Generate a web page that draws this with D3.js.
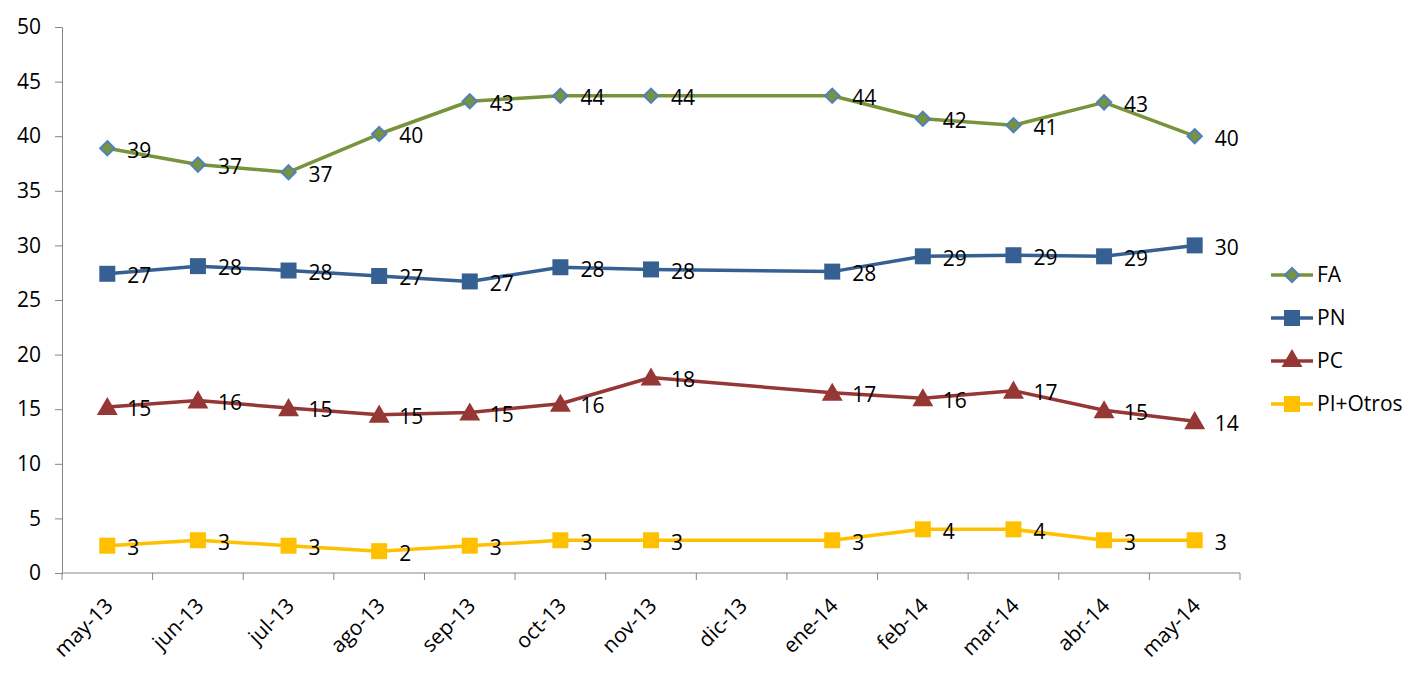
<!DOCTYPE html>
<html>
<head>
<meta charset="utf-8">
<script src="https://cdn.jsdelivr.net/npm/d3@7"></script>
<style>
    body { margin: 0; background: #fff; }
    text { font-family: "Open Sans", sans-serif; }
</style>
</head>
<body>
<div id="chart"></div>
<script>
    const meses = ["may-13", "jun-13", "jul-13", "ago-13", "sep-13", "oct-13", "nov-13",
        "dic-13", "ene-14", "feb-14", "mar-14", "abr-14", "may-14"];
    // dic-13 sin dato
    const fa = [38.9, 37.4, 36.7, 40.2, 43.2, 43.7, 43.7, null, 43.7, 41.6, 41.0, 43.1, 40.0];
    const pn = [27.4, 28.1, 27.7, 27.2, 26.7, 28.0, 27.8, null, 27.6, 29.0, 29.1, 29.0, 30.0];
    const pc = [15.2, 15.8, 15.1, 14.5, 14.7, 15.5, 17.9, null, 16.5, 16.0, 16.7, 14.9, 13.9];
    const pi = [2.5, 3.0, 2.5, 2.0, 2.5, 3.0, 3.0, null, 3.0, 4.0, 4.0, 3.0, 3.0];
    const yTicks = [0, 5, 10, 15, 20, 25, 30, 35, 40, 45, 50];

    const series = [
        { name: "FA", values: fa, color: "#77933C", marker: "diamond" },
        { name: "PN", values: pn, color: "#376092", marker: "square" },
        { name: "PC", values: pc, color: "#953735", marker: "triangle" },
        { name: "PI+Otros", values: pi, color: "#FFC000", marker: "square" }
    ];

    const width = 1426, height = 678;
    const margin = { top: 27, right: 186, bottom: 105, left: 62 };
    const innerW = width - margin.left - margin.right;
    const innerH = height - margin.top - margin.bottom;

    const svg = d3.select("#chart")
        .append("svg")
        .attr("width", width)
        .attr("height", height);

    const g = svg.append("g")
        .attr("transform", `translate(${margin.left},${margin.top})`);

    const x = d3.scaleBand().domain(meses).range([0, innerW]);
    const y = d3.scaleLinear().domain([0, 50]).range([innerH, 0]);
    const cx = m => x(m) + x.bandwidth() / 2;

    // Eje Y
    const yAxis = g.append("g")
        .call(d3.axisLeft(y).tickValues(yTicks).tickSize(7).tickPadding(14));
    yAxis.selectAll("line, path").attr("stroke", "#868686");
    yAxis.selectAll("text").style("font-size", "21px").attr("fill", "#000");

    // Eje X (marcas entre categorias)
    const xAxis = g.append("g").attr("transform", `translate(0,${innerH})`);
    xAxis.append("line")
        .attr("x1", 0).attr("x2", innerW)
        .attr("stroke", "#868686");
    xAxis.selectAll(".tk")
        .data(meses.concat(["fin"]))
        .enter()
        .append("line")
        .attr("x1", (d, i) => i * x.step())
        .attr("x2", (d, i) => i * x.step())
        .attr("y1", 0).attr("y2", 7)
        .attr("stroke", "#868686");
    xAxis.selectAll(".lbl")
        .data(meses)
        .enter()
        .append("text")
        .attr("transform", d => `translate(${cx(d) + 7},34) rotate(-45)`)
        .attr("text-anchor", "end")
        .style("font-size", "21px")
        .text(d => d);

    const symbols = {
        diamond: d3.symbol().type(d3.symbolDiamond2).size(130),
        square: d3.symbol().type(d3.symbolSquare).size(256),
        triangle: d3.symbol().type(d3.symbolTriangle).size(190)
    };

    function drawMarker(sel, s) {
        sel.attr("d", symbols[s.marker]())
            .attr("fill", s.color)
            .attr("stroke", s.marker === "diamond" ? "#4F81BD" : "none")
            .attr("stroke-width", 2);
    }

    const line = d3.line()
        .x(d => cx(d.mes))
        .y(d => y(d.v));

    series.forEach(s => {
        const pts = meses.map((m, i) => ({ mes: m, v: s.values[i] })).filter(d => d.v !== null);

        g.append("path")
            .datum(pts)
            .attr("d", line)
            .attr("fill", "none")
            .attr("stroke", s.color)
            .attr("stroke-width", 3.5)
            .attr("stroke-linejoin", "round");

        g.selectAll(null)
            .data(pts)
            .enter()
            .append("path")
            .attr("transform", d => `translate(${cx(d.mes)},${y(d.v) + (s.marker === "triangle" ? 2 : 0)})`)
            .call(drawMarker, s);

        g.selectAll(null)
            .data(pts)
            .enter()
            .append("text")
            .attr("x", d => cx(d.mes) + 20)
            .attr("y", d => y(d.v) + 2)
            .attr("dy", "0.35em")
            .style("font-size", "21px")
            .text(d => Math.round(d.v));
    });

    // Leyenda
    const legend = svg.append("g").attr("transform", "translate(1271,275)");
    series.forEach((s, i) => {
        const row = legend.append("g").attr("transform", `translate(0,${i * 43})`);
        row.append("line")
            .attr("x1", 0).attr("x2", 42)
            .attr("stroke", s.color)
            .attr("stroke-width", 3.5);
        row.append("path")
            .attr("transform", "translate(21,0)")
            .call(drawMarker, s);
        row.append("text")
            .attr("x", 46)
            .attr("dy", "0.35em")
            .style("font-size", "21px")
            .text(s.name);
    });
</script>
</body>
</html>
